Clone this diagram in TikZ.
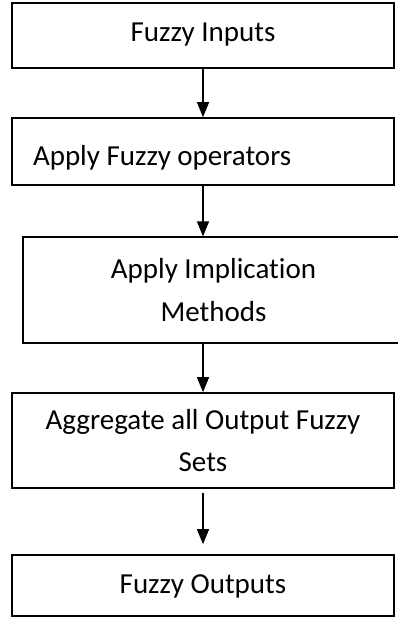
\documentclass[tikz,border=0pt]{standalone}
\usepackage{fontspec}
\setmainfont{Carlito}[Ligatures=NoCommon]
\usetikzlibrary{arrows.meta}
\begin{document}
\begin{tikzpicture}[x=1pt,y=-1pt,
  box/.style={draw=black,line width=1.6pt,rectangle,minimum width=382pt,
    inner sep=0pt,font=\fontsize{29}{42.5}\selectfont,align=center},
  flow/.style={draw=black,line width=1.3pt,-{Triangle[width=12pt,length=15pt]}}]
\useasboundingbox (0,0) rectangle (397,618);
\node[box,minimum height=65pt,text height=19pt,text depth=6.5pt] (b1) at (203,35.5) {Fuzzy Inputs};
\node[box,minimum height=67pt,text height=28pt,text depth=0pt] (b2) at (203,151.5)
  {\makebox[340pt][l]{Apply Fuzzy operators}};
\node[box,line width=1.2pt,minimum width=381pt,minimum height=106pt] (b3) at (213.5,290)
  {Apply Implication\\Methods};
\node[box,minimum height=95pt] (b4) at (203,440.5) {Aggregate all Output Fuzzy\\Sets};
\node[box,minimum height=61pt,text height=20pt,text depth=5pt] (b5) at (203,585.5) {Fuzzy Outputs};
\draw[flow] (b1.south) -- (b2.north);
\draw[flow] (b2.south) -- (b2.south |- b3.north);
\draw[flow] (b4.north |- b3.south) -- (b4.north);
\draw[flow,shorten <=4pt,shorten >=10pt] (b4.south) -- (b5.north);
\end{tikzpicture}
\end{document}
